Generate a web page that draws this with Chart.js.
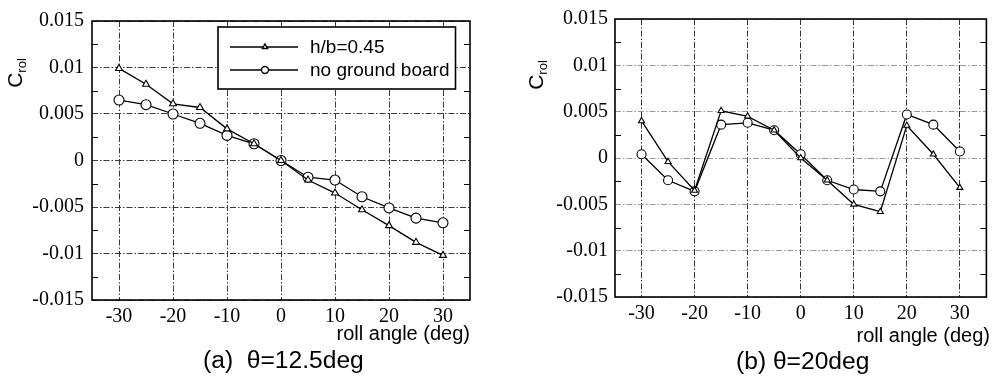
<!DOCTYPE html>
<html>
<head>
<meta charset="utf-8">
<script src="https://cdn.jsdelivr.net/npm/chart.js@4/dist/chart.umd.min.js"></script>
<style>
  body { margin: 0; background: #fff; width: 992px; height: 376px; position: relative; overflow: hidden; }
  canvas { position: absolute; top: 0; }
  #chartA { left: 0; }
  #chartB { left: 496px; }
  .lbl { position: absolute; font-family: "Liberation Sans", Arial, sans-serif; color: #000; white-space: pre; line-height: 1; }
  .ytitle { width: 60px; height: 26px; text-align: center; transform: rotate(-90deg); font-size: 21px; }
  .ytitle sub { font-size: 13px; vertical-align: -4px; }
  .caption { font-size: 23px; transform: scaleX(1.07); transform-origin: left center; }
</style>
</head>
<body>
<canvas id="chartA" width="496" height="376"></canvas>
<canvas id="chartB" width="496" height="376"></canvas>

<div class="lbl ytitle" style="left:-13px; top:60px;">C<sub>rol</sub></div>
<div class="lbl ytitle" style="left:508px; top:62px;">C<sub>rol</sub></div>
<div class="lbl" style="right:522px; top:323px; font-size:20px;">roll angle (deg)</div>
<div class="lbl" style="right:2px; top:325px; font-size:20px;">roll angle (deg)</div>
<div class="lbl caption" style="left:203px; top:349px;">(a)  θ=12.5deg</div>
<div class="lbl caption" style="left:736px; top:350px;">(b) θ=20deg</div>

<script>
const rollAngle = [-30, -25, -20, -15, -10, -5, 0, 5, 10, 15, 20, 25, 30];
const seriesLabels = ['h/b=0.45', 'no ground board'];

// (a) theta = 12.5 deg
const crolA_hb045 = [0.0099, 0.0082, 0.0061, 0.0057, 0.0034, 0.0018, 0, -0.0021, -0.0035, -0.0053, -0.0070, -0.0088, -0.0102];
const crolA_noBoard = [0.0065, 0.0060, 0.0050, 0.0040, 0.0027, 0.0018, 0, -0.0018, -0.0021, -0.0039, -0.0051, -0.0062, -0.0067];

// (b) theta = 20 deg
const crolB_hb045 = [0.0040, -0.0004, -0.0035, 0.0051, 0.0045, 0.0030, 0.0000, -0.0024, -0.0050, -0.0058, 0.0035, 0.0004, -0.0032];
const crolB_noBoard = [0.0004, -0.0024, -0.0036, 0.0036, 0.0038, 0.0030, 0.0004, -0.0024, -0.0034, -0.0036, 0.0047, 0.0036, 0.0007];

const xTicks = [-30, -20, -10, 0, 10, 20, 30];
const yTicks = [-0.015, -0.01, -0.005, 0, 0.005, 0.01, 0.015];
const yMinorTicks = [-0.0125, -0.0075, -0.0025, 0.0025, 0.0075, 0.0125];

// full box round the plot + small inward ticks on left/right
const framePlugin = {
    id: 'frame',
    afterDatasetsDraw(chart) {
        const { ctx, chartArea: a } = chart;
        const y = chart.scales.y;
        ctx.save();
        ctx.strokeStyle = '#000';
        ctx.lineWidth = 1.6;
        ctx.strokeRect(a.left, a.top, a.right - a.left, a.bottom - a.top);
        ctx.lineWidth = 1.2;
        ctx.beginPath();
        yMinorTicks.forEach(v => {
            const py = Math.round(y.getPixelForValue(v)) + 0.5;
            ctx.moveTo(a.left, py); ctx.lineTo(a.left + 6, py);
            ctx.moveTo(a.right, py); ctx.lineTo(a.right - 6, py);
        });
        ctx.stroke();
        ctx.restore();
    }
};

// boxed legend with line + marker samples
const boxLegend = {
    id: 'boxLegend',
    afterDraw(chart, args, opts) {
        if (!opts.display) return;
        const ctx = chart.ctx;
        ctx.save();
        ctx.fillStyle = '#fff';
        ctx.fillRect(opts.x, opts.y, opts.w, opts.h);
        ctx.strokeStyle = '#000';
        ctx.lineWidth = 1.6;
        ctx.strokeRect(opts.x, opts.y, opts.w, opts.h);
        chart.data.datasets.forEach((ds, i) => {
            const ly = opts.y + opts.rows[i];
            ctx.lineWidth = 1.4;
            ctx.strokeStyle = '#000';
            ctx.beginPath();
            ctx.moveTo(opts.x + 12, ly);
            ctx.lineTo(opts.x + 80, ly);
            ctx.stroke();
            ctx.fillStyle = '#fff';
            Chart.helpers.drawPoint(ctx, { pointStyle: ds.pointStyle, radius: opts.radii[i], borderWidth: 1.1, rotation: 0 }, opts.x + 47, ly);
            ctx.fillStyle = '#000';
            ctx.font = '19px "Liberation Sans", Arial, sans-serif';
            ctx.textBaseline = 'middle';
            ctx.fillText(ds.label, opts.x + 92, ly + 1);
        });
        ctx.restore();
    }
};

function series(label, xs, ys, style, r) {
    return {
        label: label,
        data: xs.map((x, i) => ({ x: x, y: ys[i] })),
        borderColor: '#000',
        borderWidth: 1.3,
        pointStyle: style,
        pointRadius: r,
        pointBackgroundColor: '#fff',
        pointBorderColor: '#000',
        pointBorderWidth: 1.1,
        tension: 0,
        fill: false
    };
}

function makeChart(id, triVals, circVals, cfg) {
    return new Chart(document.getElementById(id), {
        type: 'line',
        data: {
            datasets: [
                series(seriesLabels[0], rollAngle, triVals, 'triangle', cfg.triR),
                series(seriesLabels[1], rollAngle, circVals, 'circle', cfg.circR)
            ]
        },
        options: {
            responsive: false,
            animation: false,
            layout: { padding: { top: cfg.top, right: cfg.right, left: 0, bottom: 0 } },
            plugins: {
                legend: { display: false },
                tooltip: { enabled: false },
                boxLegend: cfg.legend
            },
            scales: {
                x: {
                    type: 'linear',
                    min: -35,
                    max: 35,
                    afterBuildTicks: s => { s.ticks = xTicks.map(v => ({ value: v })); },
                    afterFit: s => { s.height = cfg.xAxisH; },
                    grid: { color: cfg.gridX, lineWidth: 1, drawTicks: false },
                    border: { display: false, dash: [6, 2, 1.5, 2] },
                    ticks: {
                        color: '#000',
                        padding: 5,
                        maxRotation: 0,
                        autoSkip: false,
                        font: { family: '"Liberation Serif", "Times New Roman", serif', size: 20 }
                    }
                },
                y: {
                    min: -0.015,
                    max: 0.015,
                    afterBuildTicks: s => { s.ticks = yTicks.map(v => ({ value: v })); },
                    afterFit: s => { s.width = cfg.yAxisW; },
                    grid: { color: cfg.gridY, lineWidth: 1, drawTicks: false },
                    border: { display: false, dash: [6, 2, 1.5, 2] },
                    ticks: {
                        color: '#000',
                        padding: cfg.yPad,
                        callback: v => String(+v.toFixed(4)),
                        font: { family: '"Liberation Serif", "Times New Roman", serif', size: 20 }
                    }
                }
            }
        },
        plugins: [framePlugin, boxLegend]
    });
}

makeChart('chartA', crolA_hb045, crolA_noBoard, {
    top: 21, right: 26, xAxisH: 76, yAxisW: 92, yPad: 8,
    triR: 4, circR: 5,
    gridX: '#3a3a3a', gridY: '#3a3a3a',
    legend: { display: true, x: 218, y: 27, w: 237.5, h: 62, rows: [20, 43], radii: [3, 3.5] }
});

makeChart('chartB', crolB_hb045, crolB_noBoard, {
    top: 18, right: 1, xAxisH: 79, yAxisW: 119, yPad: 7,
    triR: 3.5, circR: 4.5,
    gridX: '#333', gridY: '#999',
    legend: { display: false }
});
</script>
</body>
</html>
